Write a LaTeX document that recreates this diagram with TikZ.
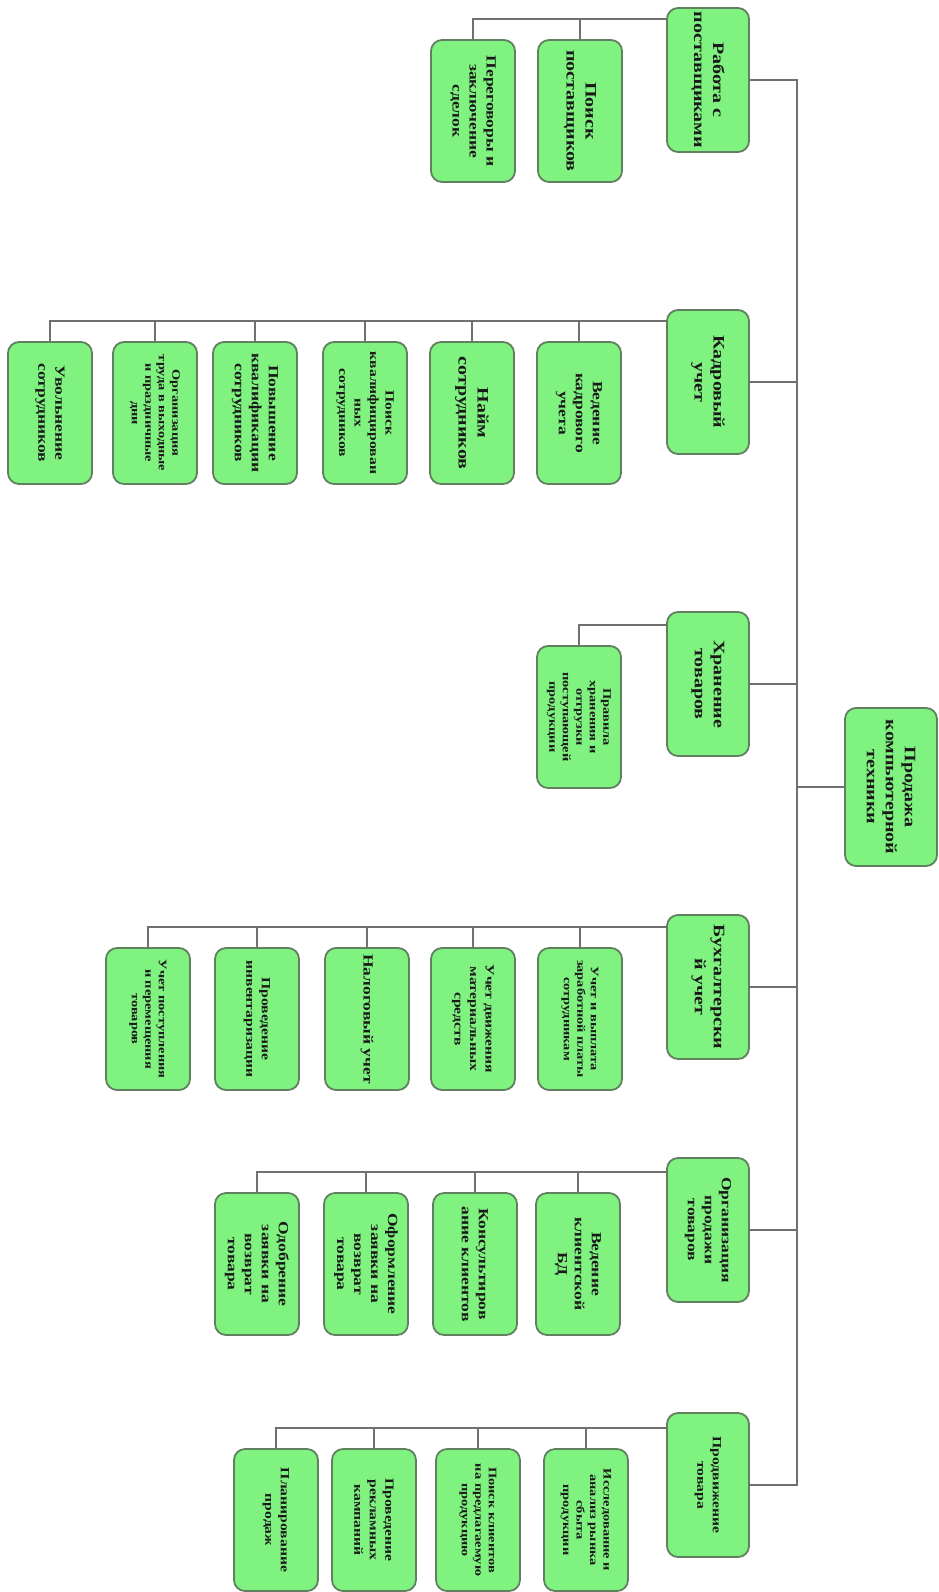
\documentclass[tikz,border=0pt]{standalone}
\usepackage{fontspec}
\setmainfont{Liberation Serif}[FakeStretch=1.25]
\usetikzlibrary{calc}
\definecolor{boxgreen}{RGB}{128,242,128}
\definecolor{boxedge}{RGB}{96,128,96}
\definecolor{wirecol}{RGB}{112,112,112}
\newcommand\fsA{\bfseries\fontsize{16}{19}\selectfont}
\newcommand\fsB{\bfseries\fontsize{14}{17}\selectfont}
\newcommand\fsC{\bfseries\fontsize{12.5}{15.5}\selectfont}
\newcommand\fsD{\bfseries\fontsize{11.5}{13.5}\selectfont}
\begin{document}
\begin{tikzpicture}[x=1pt, y=-1pt,
  box/.style={draw=boxedge, fill=boxgreen, line width=1.8pt, rounded corners=11pt,
    rotate=-90, align=center, inner sep=3pt, text=black!90, font=\fsA},
  root/.style={box, minimum width=158pt, minimum height=92pt},
  grp/.style={box, minimum width=144pt, minimum height=82pt},
  leaf/.style={box, minimum width=142pt, minimum height=84pt},
  wire/.style={draw=wirecol, line width=1.5pt}]
  \useasboundingbox (0,0) rectangle (939,1592);
  % root and the six groups
  \node[root] (root) at (891,787) {Продажа\\компьютерной\\техники};
  \node[grp] (rab) at (708,80) {Работа с\\поставщиками};
  \node[grp] (kadr) at (708,382) {Кадровый\\учет};
  \node[grp] (hran) at (708,684) {Хранение\\товаров};
  \node[grp] (buh) at (708,987) {Бухгалтерски\\й учет};
  \node[grp, font=\fsB] (org) at (708,1230) {Организация\\продажи\\товаров};
  \node[grp, font=\fsC] (prod) at (708,1485) {Продвижение\\товара};
  % suppliers
  \node[leaf] (rab1) at (580,111) {Поиск\\поставщиков};
  \node[leaf, font=\fsB] (rab2) at (473,111) {Переговоры и\\заключение\\сделок};
  % staff
  \node[leaf, font=\fsB] (kadr1) at (579,413) {Ведение\\кадрового\\учета};
  \node[leaf] (kadr2) at (472,413) {Найм\\сотрудников};
  \node[leaf, font=\fsC] (kadr3) at (365,413) {Поиск\\квалифицирован\\ных\\сотрудников};
  \node[leaf, font=\fsB] (kadr4) at (255,413) {Повышение\\квалификации\\сотрудников};
  \node[leaf, font=\fsD] (kadr5) at (155,413) {Организация\\труда в выходные\\и праздничные\\дни};
  \node[leaf, font=\fsB] (kadr6) at (50,413) {Увольнение\\сотрудников};
  % storage
  \node[leaf, font=\fsD] (hran1) at (579,717) {Правила\\хранения и\\отгрузки\\поступающей\\продукции};
  % accounting
  \node[leaf, font=\fsD] (buh1) at (580,1019) {Учет и выплата\\заработной платы\\сотрудникам};
  \node[leaf, font=\fsC] (buh2) at (473,1019) {Учет движения\\материальных\\средств};
  \node[leaf, font=\fsB] (buh3) at (367,1019) {Налоговый учет};
  \node[leaf, font=\fsC] (buh4) at (257,1019) {Проведение\\инвентаризации};
  \node[leaf, font=\fsD] (buh5) at (148,1019) {Учет поступления\\и перемещения\\товаров};
  % sales
  \node[leaf, font=\fsB] (org1) at (578,1264) {Ведение\\клиентской\\БД};
  \node[leaf, font=\fsB] (org2) at (475,1264) {Консультиров\\ание клиентов};
  \node[leaf, font=\fsB] (org3) at (366,1264) {Оформление\\заявки на\\возврат\\товара};
  \node[leaf, font=\fsB] (org4) at (257,1264) {Одобрение\\заявки на\\возврат\\товара};
  % promotion
  \node[leaf, font=\fsD] (prod1) at (586,1520) {Исследование и\\анализ рынка\\сбыта\\продукции};
  \node[leaf, font=\fsD] (prod2) at (478,1520) {Поиск клиентов\\на предлагаемую\\продукцию};
  \node[leaf, font=\fsC] (prod3) at (374,1520) {Проведение\\рекламных\\кампаний};
  \node[leaf, font=\fsC] (prod4) at (276,1520) {Планирование\\продаж};
  % trunk
  \coordinate (trunk) at (797,787);
  \draw[wire] (root.south) -- (trunk);
  \foreach \br in {rab,kadr,hran,buh,org,prod}
    \draw[wire] (\br.north) -| (trunk);
  % group to leaves
  \foreach \br/\n in {rab/2,kadr/6,hran/1,buh/5,org/4,prod/4} {
    \path (\br1.west) ++(0,-20) coordinate (\br-top);
    \foreach \i in {1,...,\n}
      \draw[wire] (\br-top -| \br.south) -| (\br\i.west);
  }
\end{tikzpicture}
\end{document}
